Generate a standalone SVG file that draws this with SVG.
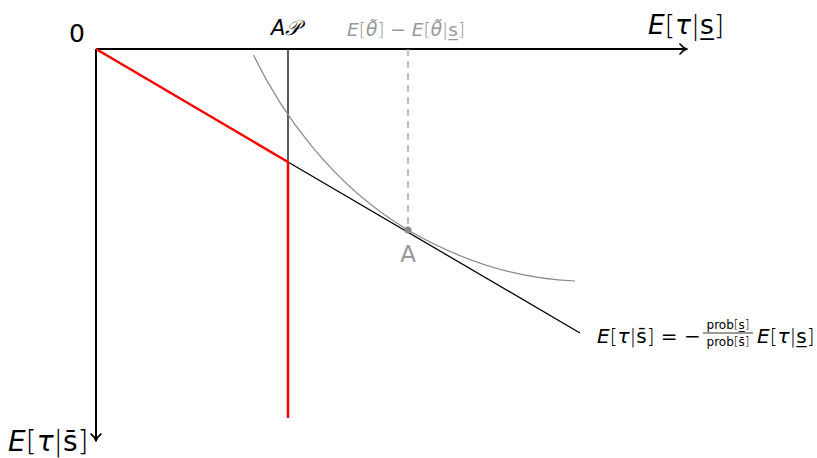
<svg xmlns="http://www.w3.org/2000/svg" width="817" height="458" viewBox="0 0 817 458">
<style>
.m{font-family:"DejaVu Sans","Noto Sans",sans-serif;}
.i{font-style:italic;}
.b{font-weight:200;}
.ax{stroke:#000;stroke-width:2;fill:none;}
.arr{stroke:#000;stroke-width:1.6;fill:none;stroke-linecap:round;stroke-linejoin:round;}
</style>
<rect width="817" height="458" fill="#fff"/>
<g id="connectors">
  <path class="ax" d="M96,49 H686"/>
  <path class="arr" d="M680,44 Q683,48 687,49 Q683,50 680,54"/>
  <path class="ax" d="M96,49 V440"/>
  <path class="arr" d="M91,434 Q95,437 96,441 Q97,437 101,434"/>
  <path d="M288,49 V162" stroke="#000" stroke-width="1.3" fill="none"/>
  <path d="M408,49 V229" stroke="#aaa" stroke-width="1.5" stroke-dasharray="7,5" fill="none"/>
  <path d="M253.5,55 C280,110 330,184 408,230 C463,262 520,279 575,281" stroke="#888" stroke-width="1.2" fill="none"/>
  <path d="M288,162 L580,333" stroke="#000" stroke-width="1.3" fill="none"/>
  <path d="M96,49 L288,162 V418" stroke="#ff0000" stroke-width="2.5" fill="none" stroke-linejoin="round"/>
</g>
<g id="origin"><text class="m" x="77" y="42" font-size="25" text-anchor="middle">0</text></g>
<g id="AP"><text class="m" x="271" y="35" font-size="21"><tspan class="i">A</tspan><tspan class="i">𝒫</tspan></text></g>
<g id="theta-label"><text class="m" x="347" y="36" font-size="18.5" fill="#999"><tspan class="i">E</tspan><tspan class="b">[</tspan><tspan class="i">θ̃</tspan><tspan class="b">]</tspan> − <tspan class="i">E</tspan><tspan class="b">[</tspan><tspan class="i">θ̃</tspan><tspan class="b">|</tspan>s̲<tspan class="b">]</tspan></text></g>
<g id="x-axis-label"><text class="m" x="648" y="34" font-size="26.5"><tspan class="i">E</tspan><tspan class="b">[</tspan><tspan class="i">τ</tspan><tspan class="b">|</tspan>s̲<tspan class="b">]</tspan></text></g>
<g id="y-axis-label"><text class="m" x="8" y="451" font-size="28"><tspan class="i">E</tspan><tspan class="b">[</tspan><tspan class="i">τ</tspan><tspan class="b">|</tspan>s̄<tspan class="b">]</tspan></text></g>
<g id="point-A">
  <circle cx="408" cy="230" r="3.5" fill="#888"/>
  <text class="m" x="408" y="262" font-size="23" fill="#999" text-anchor="middle">A</text>
</g>
<g id="line-label">
  <text class="m" x="597" y="343" font-size="20"><tspan class="i">E</tspan><tspan class="b">[</tspan><tspan class="i">τ</tspan><tspan class="b">|</tspan>s̄<tspan class="b">]</tspan> = −</text>
  <text class="m" x="728" y="329" font-size="12" text-anchor="middle">prob<tspan class="b">[</tspan>s̲<tspan class="b">]</tspan></text>
  <path d="M703,333 H753" stroke="#000" stroke-width="0.8"/>
  <text class="m" x="728" y="346" font-size="12" text-anchor="middle">prob<tspan class="b">[</tspan>s̄<tspan class="b">]</tspan></text>
  <text class="m" x="757" y="343" font-size="20"><tspan class="i">E</tspan><tspan class="b">[</tspan><tspan class="i">τ</tspan><tspan class="b">|</tspan>s̲<tspan class="b">]</tspan></text>
</g>
</svg>
